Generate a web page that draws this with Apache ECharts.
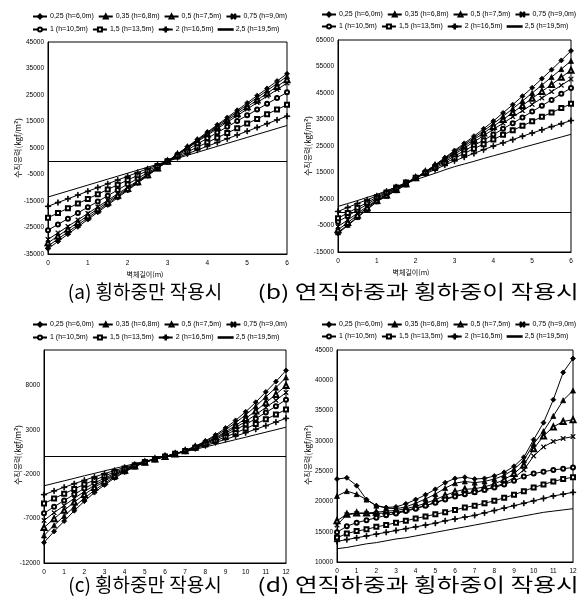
<!DOCTYPE html>
<html><head><meta charset="utf-8">
<script src="https://cdn.jsdelivr.net/npm/echarts@6/dist/echarts.min.js"></script>
<style>html,body{margin:0;padding:0;background:#fff}#c{width:581px;height:601px}</style>
</head><body><div id="c"></div><script>
// ---- categories / x values ----
const seriesNames = ['0,25 (h=6,0m)','0,35 (h=6,8m)','0,5 (h=7,5m)','0,75 (h=9,0m)','1 (h=10,5m)','1,5 (h=13,5m)','2 (h=16,5m)','2,5 (h=19,5m)'];
const xAB = [0,0.25,0.5,0.75,1,1.25,1.5,1.75,2,2.25,2.5,2.75,3,3.25,3.5,3.75,4,4.25,4.5,4.75,5,5.25,5.5,5.75,6];
const xCD = [0,0.5,1,1.5,2,2.5,3,3.5,4,4.5,5,5.5,6,6.5,7,7.5,8,8.5,9,9.5,10,10.5,11,11.5,12];
const captions = ['(a) 횡하중만 작용시','(b) 연직하중과 횡하중이 작용시','(c) 횡하중만 작용시','(d) 연직하중과 횡하중이 작용시'];
const yName = '수직응력(kgf/m²)';
const xName = '벽체길이(m)';

// ---- panel (a) ----
const a025 = [-33000,-30250,-27500,-24750,-22000,-19250,-16500,-13750,-11000,-8250,-5500,-2750,0,2750,5500,8250,11000,13750,16500,19250,22000,24750,27500,30250,33000];
const a035 = [-32000,-29330,-26670,-24000,-21330,-18670,-16000,-13330,-10670,-8000,-5330,-2670,0,2670,5330,8000,10670,13330,16000,18670,21330,24000,26670,29330,32000];
const a05 = [-30800,-28230,-25670,-23100,-20530,-17970,-15400,-12830,-10270,-7700,-5130,-2570,0,2570,5130,7700,10270,12830,15400,17970,20530,23100,25670,28230,30800];
const a075 = [-29500,-27040,-24580,-22130,-19670,-17210,-14750,-12290,-9830,-7380,-4920,-2460,0,2460,4920,7380,9830,12290,14750,17210,19670,22130,24580,27040,29500];
const a1 = [-26000,-23830,-21670,-19500,-17330,-15170,-13000,-10830,-8670,-6500,-4330,-2170,0,2170,4330,6500,8670,10830,13000,15170,17330,19500,21670,23830,26000];
const a15 = [-21300,-19530,-17750,-15980,-14200,-12430,-10650,-8880,-7100,-5330,-3550,-1780,0,1780,3550,5330,7100,8880,10650,12430,14200,15980,17750,19530,21300];
const a2 = [-17000,-15580,-14170,-12750,-11330,-9920,-8500,-7080,-5670,-4250,-2830,-1420,0,1420,2830,4250,5670,7080,8500,9920,11330,12750,14170,15580,17000];
const a25 = [-13500,-12380,-11250,-10130,-9000,-7880,-6750,-5630,-4500,-3380,-2250,-1130,0,1130,2250,3380,4500,5630,6750,7880,9000,10130,11250,12380,13500];

// ---- panel (b) ----
const b025 = [-8000,-5000,-2000,1000,4000,6100,8200,10400,12800,15300,17900,20600,23300,26000,28700,31500,34400,37500,40600,43800,47000,50400,53800,57300,60900];
const b035 = [-7600,-4700,-1800,1100,4100,6200,8300,10500,12900,15300,17700,20300,22900,25500,28100,30700,33400,36200,39100,42000,45000,48000,51000,54000,57100];
const b05 = [-6600,-3900,-1100,1700,4400,6500,8600,10800,13000,15300,17600,20000,22400,24900,27400,29900,32400,35000,37600,40300,43000,45600,48200,50900,53600];
const b075 = [-5400,-2900,-400,2200,4700,6800,8900,10900,13000,15200,17400,19600,21900,24200,26600,28900,31300,33600,36000,38300,40700,43100,45500,47900,50250];
const b1 = [-3600,-1400,800,3000,5200,7200,9100,11100,13000,15000,17100,19100,21200,23200,25200,27200,29300,31500,33600,35800,38000,40200,42400,44700,46900];
const b15 = [-2250,-250,1700,3700,5700,7500,9300,11200,13000,14800,16700,18500,20400,22200,24000,25700,27500,29200,30900,32600,34300,36000,37600,39300,40900];
const b2 = [300,1800,3300,4700,6200,7900,9600,11200,12900,14500,16100,17800,19400,20800,22200,23600,25000,26200,27400,28700,29900,31100,32300,33400,34600];
const b25 = [2200,3300,4400,5600,6700,8100,9500,10900,12300,13500,14700,16000,17200,18200,19200,20300,21300,22300,23300,24400,25400,26400,27400,28400,29400];

// ---- panel (c) ----
const c025 = [-9700,-8440,-7280,-6110,-5040,-4070,-3200,-2430,-1750,-1160,-680,-290,0,290,680,1160,1750,2430,3200,4070,5040,6110,7280,8440,9700];
const c035 = [-8900,-7760,-6710,-5660,-4690,-3810,-3010,-2300,-1670,-1120,-670,-290,0,290,670,1120,1670,2300,3010,3810,4690,5660,6710,7760,8900];
const c05 = [-8000,-7000,-6070,-5140,-4280,-3490,-2780,-2130,-1560,-1060,-640,-280,0,280,640,1060,1560,2130,2780,3490,4280,5140,6070,7000,8000];
const c075 = [-7200,-6330,-5520,-4710,-3950,-3260,-2620,-2040,-1520,-1050,-640,-300,0,300,640,1050,1520,2040,2620,3260,3950,4710,5520,6330,7200];
const c1 = [-6400,-5660,-4960,-4260,-3610,-3000,-2440,-1920,-1450,-1020,-630,-300,0,300,630,1020,1450,1920,2440,3000,3610,4260,4960,5660,6400];
const c15 = [-5300,-4730,-4190,-3660,-3140,-2660,-2200,-1760,-1360,-980,-630,-300,0,300,630,980,1360,1760,2200,2660,3140,3660,4190,4730,5300];
const c2 = [-4300,-3880,-3470,-3070,-2680,-2300,-1930,-1580,-1230,-910,-590,-290,0,290,590,910,1230,1580,1930,2300,2680,3070,3470,3880,4300];
const c25 = [-3300,-3020,-2740,-2460,-2170,-1900,-1620,-1350,-1080,-810,-530,-270,0,270,530,810,1080,1350,1620,1900,2170,2460,2740,3020,3300];

// ---- panel (d) ----
const d025 = [23700,23900,22600,20300,19300,19000,19100,19600,20300,21100,22000,23100,23800,24000,23700,23800,24200,24800,25800,27300,30200,33000,36800,41300,43600];
const d035 = [20900,21700,21200,20300,19300,18900,18800,19100,19700,20400,21200,22200,23000,23300,23100,23300,23700,24300,25300,26800,29500,31600,34100,36700,38300];
const d05 = [16800,17900,18100,18100,18200,18400,18500,18800,19200,19700,20300,21000,21600,22000,22100,22400,22900,23600,24600,26000,28700,30800,32300,33200,33500];
const d075 = [16100,17800,18000,18000,18000,18100,18200,18500,18900,19300,19800,20400,20900,21300,21500,21900,22400,23000,23900,25200,27500,29000,29900,30400,30700];
const d1 = [14900,15900,16500,16900,17300,17700,18000,18400,18800,19300,19800,20300,20800,21200,21500,21900,22300,22800,23400,24100,24600,24900,25200,25400,25600];
const d15 = [14000,14700,15100,15400,15800,16100,16500,16800,17200,17500,17900,18200,18600,19000,19300,19700,20100,20600,21100,21700,22300,22800,23300,23700,24000];
const d2 = [13400,13700,14000,14300,14600,14900,15200,15500,15800,16100,16400,16800,17100,17400,17700,18100,18500,18900,19300,19700,20100,20500,20900,21200,21500];
const d25 = [12200,12400,12700,13000,13200,13500,13800,14000,14300,14600,14900,15200,15500,15800,16100,16400,16700,17000,17300,17600,17900,18200,18400,18600,18800];

const panels = [
  {xs:xAB, data:[a025,a035,a05,a075,a1,a15,a2,a25]},
  {xs:xAB, data:[b025,b035,b05,b075,b1,b15,b2,b25]},
  {xs:xCD, data:[c025,c035,c05,c075,c1,c15,c2,c25]},
  {xs:xCD, data:[d025,d035,d05,d075,d1,d15,d2,d25]}
];

// ---- styling ----
const XSYM = 'path://M0,1L1,0L5,4L9,0L10,1L6,5L10,9L9,10L5,6L1,10L0,9L4,5Z';
const PSYM = 'path://M4.3,0H5.7V4.3H10V5.7H5.7V10H4.3V5.7H0V4.3H4.3Z';
const LINEICON = 'path://M0,0H40V1.6H0Z';
const symbols = ['diamond','triangle','emptyTriangle',XSYM,'emptyCircle','emptyRect',PSYM,'none'];
const symSizes = [5,5,5,4.5,4,4,5.5,0];
const font = '"Liberation Sans", Arial, sans-serif';
const kfont = '"Noto Sans CJK KR", sans-serif';

const grids = [
  {left:48, top:42, width:239, height:212},
  {left:338, top:40, width:233, height:212},
  {left:44, top:350, width:242, height:213},
  {left:337, top:350, width:236, height:212}
];
const yDefs = [
  {min:-35000, max:45000, base:-35000, step:10000},
  {min:-15000, max:65000, base:-15000, step:10000},
  {min:-12000, max:12000, base:-12000, step:5000},
  {min:10000, max:45000, base:10000, step:5000}
];
const yIntervals = [5000,5000,1000,5000];

const xAxis = panels.map((p,i)=>({
  type:'value', gridIndex:i, min:0, max:(i<2?6:12), interval:1,
  axisLine:{show:true, onZero:false, lineStyle:{color:'#000', width:1}},
  axisTick:{show:false}, splitLine:{show:false},
  axisLabel:{fontSize:6.5, color:'#000', fontFamily:font, margin:6}
}));
const yAxis = yDefs.map((d,i)=>({
  type:'value', gridIndex:i, min:d.min, max:d.max, interval:yIntervals[i],
  axisLine:{show:true, lineStyle:{color:'#000', width:1}},
  axisTick:{show:false}, splitLine:{show:false},
  axisLabel:{fontSize:6.5, color:'#000', fontFamily:font, margin:4,
    formatter:v=>(((v-d.base)%d.step)===0 ? String(v) : '')}
}));

const series = [];
panels.forEach((p,pi)=>{
  p.data.forEach((vals,si)=>{
    const s = {
      type:'line', name:seriesNames[si], xAxisIndex:pi, yAxisIndex:pi,
      data:p.xs.map((x,j)=>[x, vals[j]]),
      symbol:symbols[si], symbolSize:symSizes[si], showSymbol:symbols[si]!=='none',
      lineStyle:{color:'#000', width:1},
      itemStyle:{color:'#000', borderColor:'#000', borderWidth:0.8},
      animation:false, silent:true, z:3+si
    };
    if (si===7 && pi<3) {
      s.markLine = {silent:true, symbol:'none', label:{show:false}, animation:false,
        lineStyle:{color:'#000', width:1, type:'solid'}, data:[{yAxis:0}]};
    }
    series.push(s);
  });
});

const legendPos = [[32,13],[32,26],[321,11],[321,23],[32,321],[32,334],[321,321],[321,333]];
const legend = legendPos.map((pos,k)=>({
  left:pos[0], top:pos[1], width:300, orient:'horizontal', padding:0, itemGap:4,
  itemWidth:14, itemHeight:5, selectedMode:false, symbolKeepAspect:true,
  textStyle:{fontSize:7, color:'#000', fontFamily:font, padding:[0,0,0,-2]},
  data:(k%2===0 ? seriesNames.slice(0,4) : seriesNames.slice(4,7).concat([{name:seriesNames[7], icon:LINEICON}]))
}));

const graphic = [];
[[18,148],[308,146],[18,455],[308,455]].forEach(p=>{
  graphic.push({type:'text', x:p[0], y:p[1], rotation:Math.PI/2,
    style:{text:yName, font:'8px '+kfont, fill:'#000', textAlign:'center', textVerticalAlign:'middle'}});
});
[[145,274],[411,272]].forEach(p=>{
  graphic.push({type:'text', x:p[0], y:p[1],
    style:{text:xName, font:'7px '+kfont, fill:'#000', textAlign:'center', textVerticalAlign:'middle'}});
});
[[145,292,1],[418,292,1.3],[145,585,1],[418,585,1.3]].forEach((p,i)=>{
  graphic.push({type:'text', x:p[0], y:p[1], scaleX:p[2],
    style:{text:captions[i], font:'19px '+kfont, fill:'#000', textAlign:'center', textVerticalAlign:'middle'}});
});

const chart = echarts.init(document.getElementById('c'), null, {renderer:'canvas'});
chart.setOption({
  backgroundColor:'#fff', animation:false,
  grid:grids.map(g=>Object.assign({show:true, borderColor:'#000', borderWidth:1, backgroundColor:'transparent'}, g)),
  xAxis, yAxis, series, legend, graphic
});
</script></body></html>
